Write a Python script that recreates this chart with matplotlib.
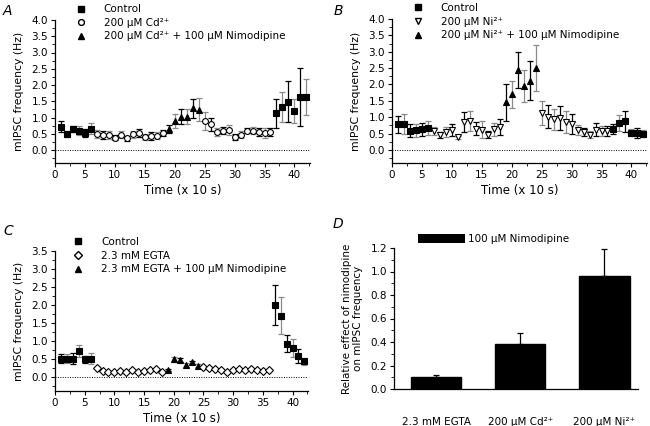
import matplotlib
matplotlib.use("Agg")
import matplotlib.pyplot as plt
from matplotlib.lines import Line2D
from matplotlib.patches import Patch
from matplotlib.ticker import MultipleLocator, FormatStrFormatter
import numpy as np

plt.rcParams['font.family'] = ['DejaVu Sans']

# ---------------- Panel A (Cd) ----------------
a_ctrl1_x = [1, 2, 3, 4, 5, 6]
a_ctrl1_y = [0.72, 0.50, 0.65, 0.60, 0.52, 0.66]
a_ctrl1_e = [0.18, 0.10, 0.10, 0.15, 0.12, 0.18]
a_drug1_x = [7, 8, 9, 10, 11, 12, 13, 14, 15, 16, 17, 18]
a_drug1_y = [0.50, 0.45, 0.47, 0.38, 0.47, 0.36, 0.48, 0.52, 0.40, 0.43, 0.44, 0.52]
a_drug1_e = [0.12, 0.12, 0.12, 0.08, 0.10, 0.08, 0.10, 0.12, 0.08, 0.12, 0.10, 0.10]
a_nim_x = [19, 20, 21, 22, 23, 24]
a_nim_y = [0.65, 0.90, 1.03, 1.03, 1.28, 1.24]
a_nim_e = [0.12, 0.22, 0.22, 0.22, 0.30, 0.35]
a_drug2_x = [25, 26, 27, 28, 29, 30, 31, 32, 33, 34, 35, 36]
a_drug2_y = [0.90, 0.80, 0.56, 0.60, 0.62, 0.40, 0.47, 0.60, 0.60, 0.55, 0.53, 0.55]
a_drug2_e = [0.27, 0.20, 0.12, 0.12, 0.15, 0.10, 0.10, 0.08, 0.12, 0.12, 0.15, 0.12]
a_ctrl2_x = [37, 38, 39, 40, 41, 42]
a_ctrl2_y = [1.13, 1.33, 1.49, 1.20, 1.63, 1.62]
a_ctrl2_e = [0.45, 0.47, 0.62, 0.38, 0.90, 0.55]

# ---------------- Panel B (Ni) ----------------
b_ctrl1_x = [1, 2, 3, 4, 5, 6]
b_ctrl1_y = [0.78, 0.80, 0.58, 0.60, 0.63, 0.67]
b_ctrl1_e = [0.25, 0.30, 0.20, 0.20, 0.20, 0.20]
b_drug1_x = [7, 8, 9, 10, 11, 12, 13, 14, 15, 16, 17, 18]
b_drug1_y = [0.57, 0.45, 0.55, 0.62, 0.38, 0.85, 0.88, 0.65, 0.62, 0.47, 0.63, 0.70]
b_drug1_e = [0.12, 0.10, 0.15, 0.18, 0.05, 0.30, 0.30, 0.20, 0.25, 0.12, 0.20, 0.25]
b_nim_x = [19, 20, 21, 22, 23, 24]
b_nim_y = [1.45, 1.70, 2.45, 1.95, 2.12, 2.50]
b_nim_e = [0.57, 0.42, 0.55, 0.50, 0.60, 0.70]
b_drug2_x = [25, 26, 27, 28, 29, 30, 31, 32, 33, 34, 35, 36]
b_drug2_y = [1.12, 1.02, 0.93, 0.97, 0.85, 0.80, 0.62, 0.55, 0.47, 0.62, 0.57, 0.58]
b_drug2_e = [0.37, 0.35, 0.33, 0.37, 0.33, 0.30, 0.15, 0.12, 0.12, 0.20, 0.15, 0.15]
b_ctrl2_x = [37, 38, 39, 40, 41, 42]
b_ctrl2_y = [0.65, 0.83, 0.87, 0.53, 0.52, 0.50]
b_ctrl2_e = [0.15, 0.25, 0.33, 0.12, 0.15, 0.12]

# ---------------- Panel C (EGTA) ----------------
c_ctrl1_x = [1, 2, 3, 4, 5, 6]
c_ctrl1_y = [0.50, 0.50, 0.50, 0.72, 0.48, 0.50]
c_ctrl1_e = [0.12, 0.12, 0.15, 0.17, 0.10, 0.15]
c_drug1_x = [7, 8, 9, 10, 11, 12, 13, 14, 15, 16, 17, 18]
c_drug1_y = [0.23, 0.17, 0.12, 0.13, 0.16, 0.14, 0.18, 0.14, 0.17, 0.18, 0.20, 0.14]
c_drug1_e = [0.03, 0.02, 0.02, 0.02, 0.02, 0.02, 0.02, 0.02, 0.02, 0.02, 0.02, 0.02]
c_nim_x = [19, 20, 21, 22, 23, 24]
c_nim_y = [0.18, 0.48, 0.46, 0.33, 0.40, 0.31]
c_nim_e = [0.02, 0.06, 0.05, 0.05, 0.04, 0.03]
c_drug2_x = [25, 26, 27, 28, 29, 30, 31, 32, 33, 34, 35, 36]
c_drug2_y = [0.27, 0.24, 0.22, 0.18, 0.12, 0.18, 0.20, 0.18, 0.20, 0.18, 0.17, 0.18]
c_drug2_e = [0.02, 0.02, 0.02, 0.02, 0.02, 0.02, 0.02, 0.02, 0.02, 0.02, 0.02, 0.02]
c_ctrl2_x = [37, 38, 39, 40, 41, 42]
c_ctrl2_y = [2.00, 1.70, 0.92, 0.80, 0.57, 0.43]
c_ctrl2_e = [0.55, 0.52, 0.23, 0.25, 0.20, 0.10]

# ---------------- Panel D ----------------
d_labels = ['2.3 mM EGTA', '200 µM Cd²⁺', '200 µM Ni²⁺']
d_values = [0.10, 0.38, 0.96]
d_errors = [0.02, 0.10, 0.23]

fig = plt.figure(figsize=(6.5, 4.26), dpi=100)
W, H = 650, 426

def add_ax(l, t, r, b):
    return fig.add_axes([l / W, 1 - b / H, (r - l) / W, (b - t) / H])

FS = 7.5

def style_ax(ax):
    for s in ['top', 'right']:
        ax.spines[s].set_visible(False)
    ax.spines['left'].set_linewidth(0.9)
    ax.spines['bottom'].set_linewidth(0.9)
    ax.tick_params(labelsize=FS, width=0.8, length=3, direction='out', pad=2)
    ax.tick_params(which='minor', width=0.6, length=2)

def plot_series(ax, x, y, e, marker, filled, start_idx):
    cols = ['#000000' if (start_idx + i) % 2 == 0 else '#8a8a8a' for i in range(len(x))]
    for xi, yi, ei, c in zip(x, y, e, cols):
        ax.errorbar([xi], [yi], yerr=[ei], fmt='none', ecolor=c, elinewidth=0.9,
                    capsize=2.2, capthick=0.9, zorder=2)
    ax.plot(x, y, linestyle='none', marker=marker, markersize=4.2,
            markerfacecolor='black' if filled else 'white', markeredgecolor='black',
            markeredgewidth=0.8, zorder=3)

def time_panel(ax, data, drug_marker, ymax, leg_labels, leg_x, leg_y):
    (c1, d1, nm, d2, c2) = data
    plot_series(ax, *c1, 's', True, 0)
    plot_series(ax, *d1, drug_marker, False, 1)
    plot_series(ax, *nm, '^', True, 0)
    plot_series(ax, *d2, drug_marker, False, 1)
    plot_series(ax, *c2, 's', True, 0)
    ax.axhline(0, color='black', linestyle=(0, (1, 1.5)), linewidth=0.7, zorder=1)
    ax.set_xlim(0, 42.6)
    ax.set_ylim(-0.4, ymax)
    ax.xaxis.set_major_locator(MultipleLocator(5))
    ax.xaxis.set_minor_locator(MultipleLocator(2.5))
    ax.yaxis.set_major_locator(MultipleLocator(0.5))
    ax.yaxis.set_minor_locator(MultipleLocator(0.25))
    ax.yaxis.set_major_formatter(FormatStrFormatter('%.1f'))
    ax.set_xlabel('Time (x 10 s)', fontsize=8.5, labelpad=3)
    ax.set_ylabel('mIPSC frequency (Hz)', fontsize=7.8, labelpad=5)
    style_ax(ax)
    handles = [
        Line2D([], [], linestyle='none', marker='s', markersize=4.2, mfc='black', mec='black'),
        Line2D([], [], linestyle='none', marker=drug_marker, markersize=4.2, mfc='white', mec='black'),
        Line2D([], [], linestyle='none', marker='^', markersize=4.2, mfc='black', mec='black'),
    ]
    ax.legend(handles, leg_labels, loc='upper left', bbox_to_anchor=(leg_x, leg_y),
              frameon=False, fontsize=7.5, handletextpad=1.6, labelspacing=0.35,
              borderaxespad=0, handlelength=1.2)

axA = add_ax(55, 20, 310, 163)
time_panel(axA, [(a_ctrl1_x, a_ctrl1_y, a_ctrl1_e), (a_drug1_x, a_drug1_y, a_drug1_e),
                 (a_nim_x, a_nim_y, a_nim_e), (a_drug2_x, a_drug2_y, a_drug2_e),
                 (a_ctrl2_x, a_ctrl2_y, a_ctrl2_e)], 'o', 4.0,
           ['Control', '200 µM Cd²⁺', '200 µM Cd²⁺ + 100 µM Nimodipine'], 0.06, 1.14)

axB = add_ax(392, 19, 647, 163)
time_panel(axB, [(b_ctrl1_x, b_ctrl1_y, b_ctrl1_e), (b_drug1_x, b_drug1_y, b_drug1_e),
                 (b_nim_x, b_nim_y, b_nim_e), (b_drug2_x, b_drug2_y, b_drug2_e),
                 (b_ctrl2_x, b_ctrl2_y, b_ctrl2_e)], 'v', 4.0,
           ['Control', '200 µM Ni²⁺', '200 µM Ni²⁺ + 100 µM Nimodipine'], 0.06, 1.14)

axC = add_ax(55, 251, 308, 391)
time_panel(axC, [(c_ctrl1_x, c_ctrl1_y, c_ctrl1_e), (c_drug1_x, c_drug1_y, c_drug1_e),
                 (c_nim_x, c_nim_y, c_nim_e), (c_drug2_x, c_drug2_y, c_drug2_e),
                 (c_ctrl2_x, c_ctrl2_y, c_ctrl2_e)], 'D', 3.5,
           ['Control', '2.3 mM EGTA', '2.3 mM EGTA + 100 µM Nimodipine'], 0.05, 1.13)

axD = add_ax(394, 248, 638, 389)
xpos = np.arange(len(d_values))
axD.bar(xpos, d_values, width=0.6, color='black', edgecolor='black', zorder=2)
axD.errorbar(xpos, d_values, yerr=[[0] * len(d_errors), d_errors], fmt='none',
             ecolor='black', elinewidth=0.9, capsize=2.5, capthick=0.9, zorder=3)
axD.set_xlim(-0.5, 2.4)
axD.set_ylim(0, 1.2)
axD.yaxis.set_major_locator(MultipleLocator(0.2))
axD.yaxis.set_minor_locator(MultipleLocator(0.1))
axD.yaxis.set_major_formatter(FormatStrFormatter('%.1f'))
axD.set_xticks(xpos)
axD.set_xticklabels(d_labels)
style_ax(axD)
axD.tick_params(axis='x', length=0, pad=20, labelsize=7.5)
axD.set_ylabel('Relative effect of nimodipine\non mIPSC frequency', fontsize=7.5, labelpad=5)
axD.legend([Patch(facecolor='black')], ['100 µM Nimodipine'], loc='upper left',
           bbox_to_anchor=(0.08, 1.13), frameon=False, fontsize=7.5, handlelength=4.5,
           handleheight=0.9, handletextpad=0.3, borderaxespad=0)

for letter, px, py in [('A', 3, 4), ('B', 334, 4), ('C', 3, 224), ('D', 333, 217)]:
    fig.text(px / W, 1 - py / H, letter, fontsize=10, style='italic', va='top', ha='left')

fig.savefig('out.png', dpi=100)
